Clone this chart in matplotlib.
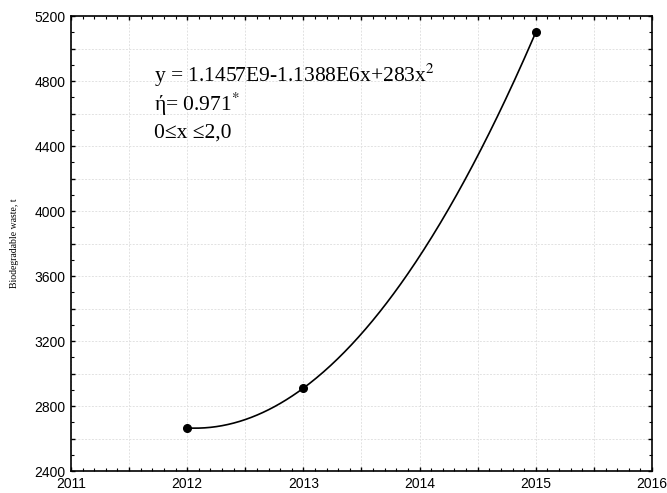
import matplotlib
matplotlib.use("Agg")
import matplotlib.pyplot as plt
import numpy as np
from matplotlib.ticker import MultipleLocator, FuncFormatter

years = [2012, 2013, 2015]
waste = [2665, 2910, 5100]
x_ticks = [2011, 2012, 2013, 2014, 2015, 2016]
y_ticks = [2400, 2800, 3200, 3600, 4000, 4400, 4800, 5200]

plt.rcParams['mathtext.fontset'] = 'stix'

fig = plt.figure(figsize=(6.67, 4.93), dpi=100)
ax = fig.add_axes([0.1064, 0.0446, 0.8711, 0.9229])

coef = np.polyfit(years, waste, 2)
xs = np.linspace(years[0], years[-1], 300)
ax.plot(xs, np.polyval(coef, xs), color='black', lw=1.2, zorder=3)
ax.plot(years, waste, 'o', color='black', ms=5.5, zorder=4)

ax.set_xlim(2011, 2016)
ax.set_ylim(2400, 5200)
ax.xaxis.set_major_locator(MultipleLocator(0.5))
ax.xaxis.set_minor_locator(MultipleLocator(0.1))
ax.yaxis.set_major_locator(MultipleLocator(200))
ax.yaxis.set_minor_locator(MultipleLocator(100))
ax.xaxis.set_major_formatter(FuncFormatter(lambda v, p: f"{int(round(v))}" if abs(v - round(v)) < 1e-6 else ""))
ax.yaxis.set_major_formatter(FuncFormatter(lambda v, p: f"{int(round(v))}" if int(round(v)) % 400 == 0 else ""))

ax.tick_params(which='both', direction='in', top=True, right=True, colors='black')
ax.tick_params(which='major', length=3, width=1, labelsize=10, pad=4)
ax.tick_params(which='minor', length=2, width=0.8)
for lbl in ax.get_xticklabels() + ax.get_yticklabels():
    lbl.set_family('Liberation Sans')
ax.grid(True, which='major', color='#e2e2e2', linestyle=(0, (2, 1.5)), lw=0.7)
ax.set_axisbelow(True)
for s in ax.spines.values():
    s.set_linewidth(1.2)

ax.set_ylabel('Biodegradable waste, t', family='Liberation Serif', fontsize=7, labelpad=11)

tfont = dict(family='Liberation Serif', fontsize=15.5, color='black', transform=ax.transAxes, va='baseline')
ax.text(0.143, 0.855, r"y = 1.1457E9-1.1388E6x+283x$^{2}$", **tfont)
ax.text(0.143, 0.791, r"ή= 0.971$^{*}$", **tfont)
ax.text(0.143, 0.732, r"0≤x ≤2,0", **tfont)

fig.savefig('out.png', dpi=100)
